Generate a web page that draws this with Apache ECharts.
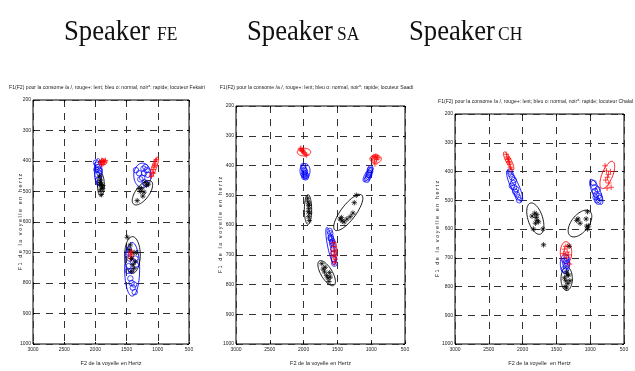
<!DOCTYPE html>
<html>
<head>
<meta charset="utf-8">
<script src="https://cdn.jsdelivr.net/npm/echarts@6/dist/echarts.min.js"></script>
<style>html,body{margin:0;padding:0;background:#fff;}#c{width:635px;height:371px;}</style>
</head>
<body>
<div id="c"></div>
<script>
// ---- axis ticks ----
const xTicks = [3000, 2500, 2000, 1500, 1000, 500];
const yTicks = [200, 300, 400, 500, 600, 700, 800, 900, 1000];

// ---- headers / titles ----
const speakers = ['FE', 'SA', 'CH'];
const panelTitles = [
  'F1(F2) pour la consome /a /, rouge+: lent; bleu o: normal, noir*: rapide; locuteur Fekairi',
  'F1(F2) pour la consome /a /, rouge+: lent; bleu o: normal, noir*: rapide; locuteur Saadi',
  'F1(F2) pour la consome /a /, rouge+: lent; bleu o: normal, noir*: rapide; locuteur Chalal'
];
const xNames = ['F2 de la voyelle en Hertz', 'F2 de la voyelle en Hertz', 'F2 de la voyelle  en Hertz'];
const yName = 'F 1   d e   l a   v o y e l l e   e n   h e r t z';

// ---- Speaker FE : [F2, F1] ----
const feRed = [[1920,405],[1900,398],[1880,410],[1870,402],[1905,412],[1890,400],[1855,404],[1840,398],
  [1100,450],[1090,438],[1075,428],[1060,420],[1050,410],[1035,400],[1070,440],[1045,415],[1025,395],
  [1440,705],[1430,695],[1425,712],[1435,720],[1420,700]];
const feBlue = [[1990,405],[1975,412],[1960,420],[1950,428],[1930,432],[1985,428],[1965,445],[1950,462],[1945,472],[1935,440],
  [1350,430],[1300,440],[1230,425],[1200,420],[1180,430],[1250,455],[1210,470],[1190,475],[1160,445],[1280,460],[1220,440],
  [1480,700],[1460,690],[1450,720],[1470,745],[1430,760],[1440,785],[1420,800],[1400,815],[1370,830],[1380,805],[1360,720],[1400,730],[1480,760],[1350,740]];
const feBlack = [[1930,450],[1920,462],[1910,478],[1900,485],[1885,490],[1920,495],[1905,510],[1880,480],[1930,475],[1915,470],
  [1330,530],[1300,490],[1280,500],[1220,502],[1180,480],[1200,470],[1150,476],[1240,515],[1260,490],
  [1490,650],[1440,675],[1380,700],[1340,700],[1400,740],[1380,752],[1420,762],[1460,690],[1360,730],[1420,720]];
// ellipses: [centre F2, centre F1, axis1 dF2, axis1 dF1, axis2 dF2, axis2 dF1]
const feRedEll = [[1871,403,55,0,0,10],[1058,421,-59,-33,-35,3],[1433,708,40,0,0,16]];
const feBlueEll = [[1955,435,60,0,0,43],[1246,447,139,0,0,40],[1411,755,120,0,0,88]];
const feBlackEll = [[1912,478,55,0,0,37],[1246,504,-139,-38,-86,13],[1406,708,125,0,0,60]];

// ---- Speaker SA ----
const saRed = [[2050,345],[2040,342],[2030,350],[2015,352],[2000,355],[1990,358],[1975,362],[1955,365],[2010,348],
  [980,375],[960,370],[940,372],[920,380],[900,375],[955,385],[945,395],[910,372],[930,368],
  [1555,660],[1548,672],[1545,685],[1540,700],[1550,690],[1535,715],[1542,725],[1555,705]];
const saBlue = [[2005,402],[2000,410],[1990,415],[1985,425],[1975,430],[1995,430],[1970,440],[1980,420],[1960,435],[1990,438],
  [1010,410],[1015,420],[1025,425],[1030,432],[1045,438],[1055,443],[1065,448],[1040,430],[1020,415],
  [1615,620],[1605,628],[1598,640],[1590,648],[1580,660],[1570,668],[1562,680],[1555,695],[1548,715],[1600,645],[1575,655],[1545,730]];
const saBlack = [[1940,510],[1935,522],[1925,535],[1920,545],[1930,555],[1910,560],[1925,572],[1915,585],[1918,530],
  [1460,580],[1430,586],[1400,590],[1360,580],[1310,572],[1270,560],[1220,500],[1250,525],[1440,575],
  [1730,730],[1710,748],[1690,758],[1660,770],[1640,778],[1625,790],[1605,775],[1680,742],[1615,760]];
const saRedEll = [[1994,355,99,0,0,13],[934,378,84,0,0,14],[1551,693,44,0,0,42]];
const saBlueEll = [[1979,418,74,0,0,25],[1048,430,-64,-24,-34,5],[1600,671,-57,63,-43,-2]];
const saBlackEll = [[1935,548,54,0,0,50],[1339,558,-197,-59,-87,15],[1659,762,-108,41,-72,-10]];

// ---- Speaker CH ----
const chRed = [[2240,340],[2230,350],[2220,358],[2205,365],[2190,375],[2180,385],[2170,392],[2210,355],[2195,370],
  [780,380],[760,398],[745,420],[725,440],[750,458],[700,400],[730,410],[770,430],[690,455],
  [1380,670],[1360,660],[1340,680],[1320,690],[1370,690],[1350,700],[1330,660],[1305,722],[1395,685]];
const chBlue = [[2190,400],[2175,410],[2155,420],[2140,440],[2160,450],[2125,455],[2110,470],[2085,480],[2065,490],[2050,500],[2095,462],[2130,430],
  [950,440],[940,455],[930,468],[920,490],[900,500],[880,505],[860,492],[910,480],[890,462],[875,485],
  [1380,710],[1370,720],[1360,730],[1390,740],[1350,700],[1340,720],[1370,745],[1355,712]];
const chBlack = [[1860,555],[1820,545],[1800,560],[1790,550],[1785,570],[1765,575],[1840,600],[1700,600],[1690,655],[1810,580],
  [1200,570],[1180,565],[1150,580],[1060,565],[1040,540],[1050,590],[1040,600],[1025,590],
  [1350,750],[1340,760],[1360,780],[1370,800],[1330,790],[1300,780],[1320,760],[1380,770],[1350,805],[1310,660]];
const chRedEll = [[2206,363,-69,31,-35,-4],[747,412,-81,-47,-73,7],[1358,682,84,0,0,38]];
const chBlueEll = [[2118,450,-106,54,-54,-6],[910,471,-81,43,-54,-6],[1373,721,69,0,0,34]];
const chBlackEll = [[1812,564,-74,54,-103,-8],[1151,581,-143,-43,-101,18],[1348,773,84,0,0,41]];

const panels = [
  {red: feRed, blue: feBlue, black: feBlack, ell: [feRedEll, feBlueEll, feBlackEll]},
  {red: saRed, blue: saBlue, black: saBlack, ell: [saRedEll, saBlueEll, saBlackEll]},
  {red: chRed, blue: chBlue, black: chBlack, ell: [chRedEll, chBlueEll, chBlackEll]}
];

// ---- layout ----
const grids = [
  {left: 33, top: 100, width: 156, height: 248},
  {left: 236, top: 106, width: 169, height: 242},
  {left: 455, top: 114, width: 169, height: 234}
];
const titleTops = [85, 85, 99];
const yNameGaps = [10, 13, 15];
const SANS = "'Liberation Sans', Arial, sans-serif";
const COLORS = {red: '#ff0000', blue: '#0000ff', black: '#000000'};
const PLUS = 'path://M5,0L5,10M0,5L10,5';
const STAR = 'path://M5,0L5,10M0,5L10,5M1.5,1.5L8.5,8.5M8.5,1.5L1.5,8.5';

const xMain = grids.map((g, i) => ({
  gridIndex: i, type: 'value', min: 500, max: 3000, interval: 500, inverse: true,
  name: xNames[i], nameLocation: 'middle', nameGap: 16, nameMoveOverlap: false,
  nameTextStyle: {fontFamily: SANS, fontSize: 5.5, color: '#222'},
  axisLine: {show: false},
  axisTick: {show: true, inside: true, length: 2, lineStyle: {color: '#000'}},
  axisLabel: {fontFamily: SANS, fontSize: 5, color: '#222', margin: 3,
    formatter: v => xTicks.includes(v) ? String(v) : ''},
  splitLine: {show: true, lineStyle: {color: '#333', type: [7, 6], width: 1}}
}));
const xTop = grids.map((g, i) => ({
  gridIndex: i, type: 'value', min: 500, max: 3000, interval: 500, inverse: true, position: 'top',
  axisLine: {show: false}, axisLabel: {show: false}, splitLine: {show: false},
  axisTick: {show: true, inside: true, length: 2, lineStyle: {color: '#000'}}
}));
const yMain = grids.map((g, i) => ({
  gridIndex: i, type: 'value', min: 200, max: 1000, interval: 100, inverse: true,
  name: yName, nameLocation: 'middle', nameGap: yNameGaps[i], nameRotate: 90, nameMoveOverlap: false,
  nameTextStyle: {fontFamily: SANS, fontSize: 5.5, color: '#222'},
  axisLine: {show: false},
  axisTick: {show: true, inside: true, length: 2, lineStyle: {color: '#000'}},
  axisLabel: {fontFamily: SANS, fontSize: 5, color: '#222', margin: 2,
    formatter: v => yTicks.includes(v) ? String(v) : ''},
  splitLine: {show: true, lineStyle: {color: '#333', type: [7, 6], width: 1}}
}));
const yRight = grids.map((g, i) => ({
  gridIndex: i, type: 'value', min: 200, max: 1000, interval: 100, inverse: true, position: 'right',
  axisLine: {show: false}, axisLabel: {show: false}, splitLine: {show: false},
  axisTick: {show: true, inside: true, length: 2, lineStyle: {color: '#000'}}
}));

const option = {
  animation: false,
  backgroundColor: '#fff',
  title: grids.map((g, i) => ({
    text: panelTitles[i],
    left: g.left + g.width / 2 - 4,
    top: titleTops[i],
    padding: 0,
    textAlign: 'center',
    textStyle: {fontFamily: SANS, fontSize: 5.1, fontWeight: 'normal', color: '#222'}
  })),
  grid: grids.map(g => Object.assign({show: true, borderColor: '#000', borderWidth: 1, containLabel: false}, g)),
  xAxis: xMain.concat(xTop),
  yAxis: yMain.concat(yRight),
  graphic: [],
  series: []
};

// headers
const headerX = [[64, 157], [247, 337], [409, 498]];
speakers.forEach((s, i) => {
  option.graphic.push({type: 'text', x: headerX[i][0], y: 32, scaleX: 0.92,
    style: {text: 'Speaker', font: "29px 'Liberation Serif', 'Times New Roman', serif", fill: '#111', verticalAlign: 'middle', align: 'left'}});
  option.graphic.push({type: 'text', x: headerX[i][1], y: 35, scaleX: 0.92,
    style: {text: s, font: "19px 'Liberation Serif', 'Times New Roman', serif", fill: '#111', verticalAlign: 'middle', align: 'left'}});
});

function ellipseSeries(data, color, gi) {
  return {
    type: 'custom', xAxisIndex: gi, yAxisIndex: gi, data: data, silent: true,
    dimensions: ['cx', 'cy', 'ux', 'uy', 'vx', 'vy'],
    encode: {x: 0, y: 1},
    renderItem: function (params, api) {
      const cx = api.value(0), cy = api.value(1), ux = api.value(2), uy = api.value(3), vx = api.value(4), vy = api.value(5);
      const pts = [];
      for (let k = 0; k <= 60; k++) {
        const t = k / 60 * Math.PI * 2;
        pts.push(api.coord([cx + ux * Math.cos(t) + vx * Math.sin(t), cy + uy * Math.cos(t) + vy * Math.sin(t)]));
      }
      return {type: 'polyline', shape: {points: pts}, style: {stroke: color, fill: 'none', lineWidth: 0.9}};
    }
  };
}

panels.forEach((p, gi) => {
  option.series.push({type: 'scatter', xAxisIndex: gi, yAxisIndex: gi, data: p.blue, symbol: 'circle', symbolSize: 5.5,
    itemStyle: {color: 'none', borderColor: COLORS.blue, borderWidth: 0.9}, silent: true});
  option.series.push({type: 'scatter', xAxisIndex: gi, yAxisIndex: gi, data: p.red, symbol: PLUS, symbolSize: 5.5,
    itemStyle: {color: 'none', borderColor: COLORS.red, borderWidth: 0.9}, silent: true});
  option.series.push({type: 'scatter', xAxisIndex: gi, yAxisIndex: gi, data: p.black, symbol: STAR, symbolSize: 5.5,
    itemStyle: {color: 'none', borderColor: COLORS.black, borderWidth: 0.9}, silent: true});
  option.series.push(ellipseSeries(p.ell[0], COLORS.red, gi));
  option.series.push(ellipseSeries(p.ell[1], COLORS.blue, gi));
  option.series.push(ellipseSeries(p.ell[2], COLORS.black, gi));
});

const chart = echarts.init(document.getElementById('c'), null, {renderer: 'canvas'});
chart.setOption(option);
</script>
</body>
</html>
